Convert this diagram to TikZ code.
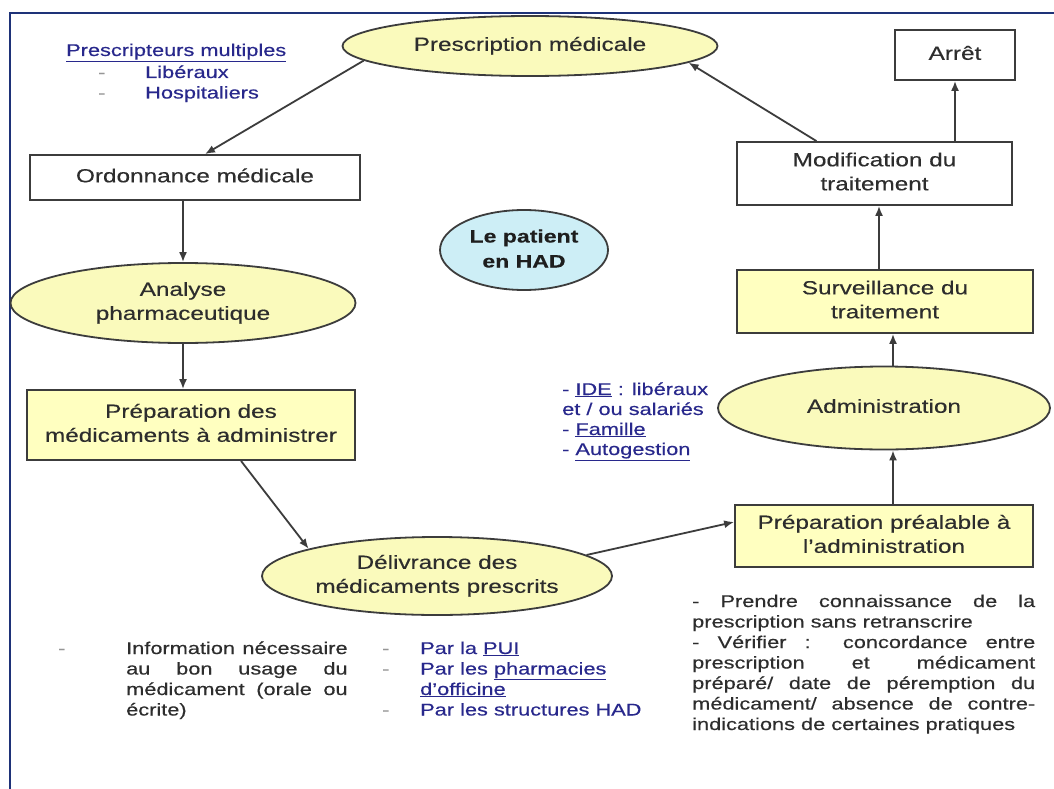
\documentclass[tikz,border=0pt]{standalone}
\usepackage{fontspec}
\setmainfont{Liberation Sans}[FakeBold=0.3]
\usepackage{graphicx}
\usetikzlibrary{shapes.geometric,arrows.meta}

\definecolor{boxyel}{RGB}{255,255,192}
\definecolor{elyel}{RGB}{250,250,188}
\definecolor{cyanfill}{RGB}{205,238,246}
\definecolor{txt}{RGB}{45,45,45}
\definecolor{bluetxt}{RGB}{40,40,140}
\definecolor{framec}{RGB}{30,50,120}
\definecolor{linec}{RGB}{60,60,60}
\definecolor{dashc}{RGB}{150,150,150}

\newcommand\hs[1]{\scalebox{1.28}[1]{#1}}
\newcommand\lab[1]{\hs{\fontsize{19}{24}\selectfont\begin{tabular}{@{}c@{}}#1\end{tabular}}}

\tikzset{
  box/.style={draw=linec, line width=1.8pt, rectangle, inner sep=0pt, text=txt},
  yelbox/.style={box, fill=boxyel},
  whitebox/.style={box, fill=white},
  ell/.style={draw=linec, line width=1.8pt, ellipse, inner sep=0pt, fill=elyel, text=txt},
  arr/.style={draw=linec, line width=1.8pt, -{Latex[length=10pt,width=8pt]}},
  small/.style={anchor=base west, inner sep=0pt, font=\fontsize{17}{20.5}\selectfont},
}

\begin{document}
\begin{tikzpicture}[x=1pt,y=-1pt]
\useasboundingbox (0,0) rectangle (1054,789);
\fill[white] (0,0) rectangle (1054,789);
\draw[framec, line width=2pt] (10,789) -- (10,13) -- (1054,13);

% main shapes
\node[ell, minimum width=375, minimum height=60] (presc) at (530,46) {\lab{Prescription médicale}};
\node[whitebox, minimum width=330, minimum height=45] (ordo) at (195,177.5) {\lab{Ordonnance médicale}};
\node[ell, minimum width=345, minimum height=80] (analyse) at (183,303) {\lab{Analyse\\pharmaceutique}};
\node[yelbox, minimum width=328, minimum height=70] (prep1) at (191,425) {\lab{Préparation des\\médicaments à administrer}};
\node[ell, minimum width=350, minimum height=78] (deliv) at (437,576) {\lab{Délivrance des\\médicaments prescrits}};
\node[yelbox, minimum width=298, minimum height=62] (prep2) at (884,536) {\lab{Préparation préalable à\\l’administration}};
\node[ell, minimum width=332, minimum height=83] (admin) at (884,408) {\lab{Administration}};
\node[yelbox, minimum width=296, minimum height=63] (surv) at (885,301.5) {\lab{Surveillance du\\traitement}};
\node[whitebox, minimum width=275, minimum height=63] (modif) at (874.5,173.5) {\lab{Modification du\\traitement}};
\node[whitebox, minimum width=120, minimum height=50] (arret) at (955,55) {\lab{Arrêt}};
\node[ell, fill=cyanfill, minimum width=168, minimum height=80, text={rgb,255:red,30;green,30;blue,30}] (patient) at (524,250)
  {\hs{\fontsize{18}{25}\selectfont\bfseries\begin{tabular}{@{}c@{}}Le patient\\en HAD\end{tabular}}};

% texts
\node[small, text=bluetxt] (prescm) at (66,56) {\hs{\underline{Prescripteurs multiples}}};
\node[small, text=dashc] (prescd) at (98,78) {\hs{\begin{tabular}[t]{@{}l@{}}-\\-\end{tabular}}};
\node[small, text=bluetxt] (prescl) at (145,78) {\hs{\begin{tabular}[t]{@{}l@{}}Libéraux\\Hospitaliers\end{tabular}}};

\node[small, text=bluetxt, font=\fontsize{17}{20}\selectfont] (ide) at (562,395)
  {\hs{\begin{tabular}[t]{@{}l@{}}- \underline{IDE} : libéraux\\et / ou salariés\\- \underline{Famille}\\- \underline{Autogestion}\end{tabular}}};

\node[small, text=dashc] (infod) at (58,654) {\hs{-}};
\node[small, text=txt] (info) at (126,654)
  {\hs{\parbox[t]{173pt}{\hyphenpenalty=10000\tolerance=10000 Information nécessaire\linebreak au bon usage du\linebreak médicament (orale ou\linebreak écrite)}}};

\node[small, text=dashc] (pard) at (382,654) {\hs{\begin{tabular}[t]{@{}l@{}}-\\-\\ \\-\end{tabular}}};
\node[small, text=bluetxt] (par) at (420,654)
  {\hs{\begin{tabular}[t]{@{}l@{}}Par la \underline{PUI}\\Par les \underline{pharmacies}\\\underline{d’officine}\\Par les structures HAD\end{tabular}}};

\node[small, text=txt] (verif) at (692,607)
  {\hs{\parbox[t]{268pt}{\hyphenpenalty=10000\tolerance=10000 - Prendre connaissance de la\linebreak prescription sans retranscrire\par
  - Vérifier : concordance entre\linebreak prescription et médicament\linebreak préparé/ date de péremption du\linebreak médicament/ absence de contre-\linebreak indications de certaines pratiques}}};

% connectors
\coordinate (cx) at ([xshift=9pt]prep2.north);
\coordinate (cy) at ([xshift=-6pt]surv.north);
\coordinate (cz) at ([xshift=-58pt]modif.north);
\coordinate (co) at ([xshift=10pt]ordo.north);
\coordinate (cp) at ([xshift=50pt]prep1.south);
\coordinate (cq) at ([yshift=14pt]prep2.west);

\draw[arr] (presc.185) -- (co);
\draw[arr] (ordo.south -| analyse.north) -- (analyse.north);
\draw[arr] (analyse.south) -- (analyse.south |- prep1.north);
\draw[arr] (cp) -- (deliv.168);
\draw[arr] (deliv.8) -- (cq);
\draw[arr] (cx) -- (cx |- admin.south);
\draw[arr] (cx |- admin.north) -- (cx |- surv.south);
\draw[arr] (cy) -- (cy |- modif.south);
\draw[arr] (modif.north -| arret.south) -- (arret.south);
\draw[arr] (cz) -- (presc.-6);
\end{tikzpicture}
\end{document}
